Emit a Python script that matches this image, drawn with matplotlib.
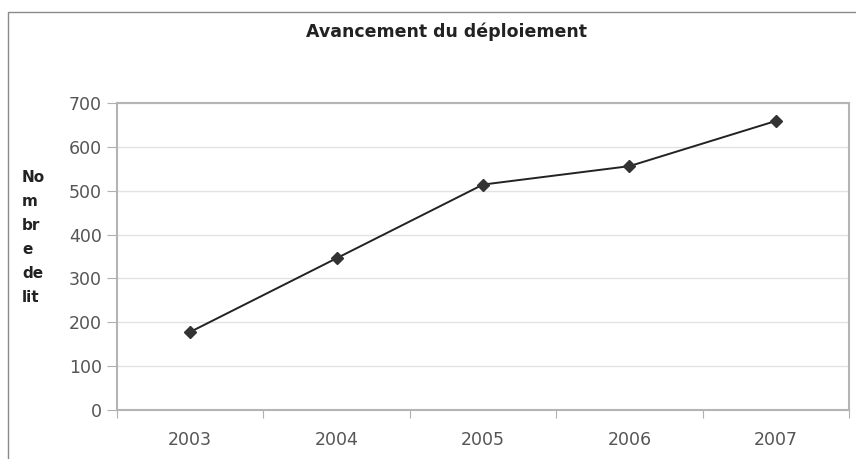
import matplotlib
matplotlib.use("Agg")
import matplotlib.pyplot as plt
from matplotlib.patches import Rectangle

years = ["2003", "2004", "2005", "2006", "2007"]
values = [178, 346, 514, 556, 659]
yticks = [0, 100, 200, 300, 400, 500, 600, 700]
title = "Avancement du déploiement"
ylabel = "No\nm\nbr\ne\nde\nlit"

fig = plt.figure(figsize=(8.56, 4.59), dpi=100)
fig.patch.set_facecolor("white")

# outer chart frame
fig.add_artist(Rectangle((8/856, -0.1), 1.0, 1 - 12/459 + 0.1, transform=fig.transFigure,
                         fill=False, edgecolor="#8a8a8a", linewidth=1.0))

ax = fig.add_axes([117/856, 1 - 410/459, (849 - 117)/856, (410 - 103)/459])
x = list(range(len(years)))
ax.plot(x, values, color="#222222", linewidth=1.4, marker="D", markersize=6,
        markerfacecolor="#333333", markeredgecolor="#333333", zorder=3)

ax.set_xlim(-0.5, len(years) - 0.5)
ax.set_ylim(0, 700)
ax.set_yticks(yticks)
ax.set_yticklabels([str(v) for v in yticks], fontsize=12.5, color="#555555")
ax.set_xticks([i - 0.5 for i in range(len(years) + 1)])
ax.set_xticklabels([])
ax.set_xticks(x, minor=True)
ax.set_xticklabels(years, minor=True, fontsize=12.5, color="#555555")
ax.tick_params(axis="x", which="minor", length=0, pad=15)
ax.tick_params(axis="x", which="major", length=6, color="#b0b0b0", direction="out")
ax.tick_params(axis="y", length=7, color="#b0b0b0", direction="out", pad=4)

ax.grid(axis="y", color="#e2e2e2", linewidth=1.0)
ax.set_axisbelow(True)
for s in ax.spines.values():
    s.set_color("#b4b4b4")
    s.set_linewidth(1.5)

fig.text(446/856, 1 - 32/459, title, ha="center", va="center", fontsize=12.5,
         fontweight="bold", color="#222222")
fig.text(22/856, 1 - 237/459, ylabel, ha="left", va="center", fontsize=11,
         fontweight="bold", color="#222222", linespacing=1.75)

fig.savefig("out.png", dpi=100, facecolor="white")
